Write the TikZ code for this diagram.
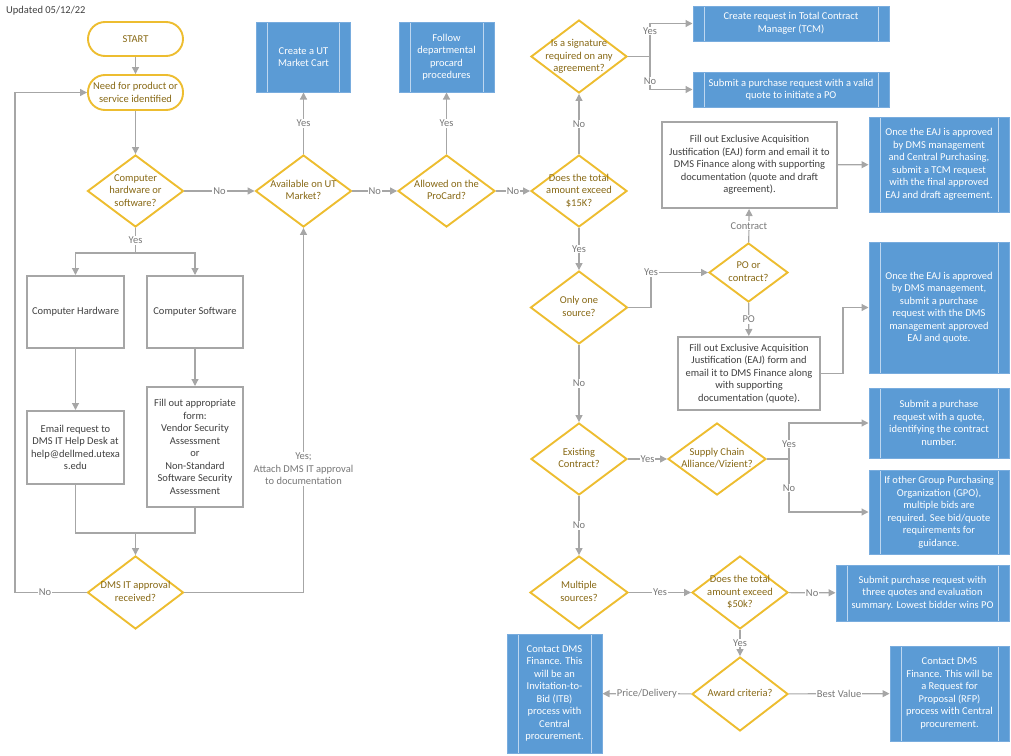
\documentclass[tikz,border=0pt]{standalone}
\usepackage{fontspec}
\setmainfont{Carlito}
\usetikzlibrary{shapes.geometric,arrows.meta}
\definecolor{gold}{RGB}{237,189,48}
\definecolor{goldtext}{RGB}{135,104,20}
\definecolor{procblue}{RGB}{91,155,213}
\definecolor{bluedge}{RGB}{120,172,222}
\definecolor{blueline}{RGB}{190,215,240}
\definecolor{linegrey}{RGB}{166,166,166}
\definecolor{boxgrey}{RGB}{166,166,166}
\definecolor{darktext}{RGB}{64,64,64}
\definecolor{labgrey}{RGB}{120,120,120}
\newcommand{\dtxt}[1]{\hbox to 0pt{\hss\vbox to 0pt{\vss\hbox{\begin{tabular}{@{}c@{}}#1\end{tabular}}\vss}\hss}}
\begin{document}
\begin{tikzpicture}[x=1pt,y=-1pt,font=\fontsize{10.5}{12.5}\selectfont,
  dec/.style={diamond, draw=gold, line width=1.9pt, inner sep=0pt, text=goldtext, minimum width=96, minimum height=72},
  term/.style={rectangle, rounded corners=17, draw=gold, line width=1.9pt, text=goldtext, align=center, minimum width=95, minimum height=34, inner sep=0pt},
  gbox/.style={rectangle, draw=boxgrey, line width=2pt, text=darktext, align=center, inner sep=0pt},
  pbox/.style={rectangle, draw=bluedge, line width=1pt, fill=procblue, text=white, align=center, inner sep=0pt,
    path picture={\draw[blueline, line width=1pt]
      ([xshift=11pt]path picture bounding box.north west) -- ([xshift=11pt]path picture bounding box.south west)
      ([xshift=-11pt]path picture bounding box.north east) -- ([xshift=-11pt]path picture bounding box.south east);}},
  conn/.style={draw=linegrey, line width=1.2pt, -{Triangle[length=7pt,width=7pt]}},
  link/.style={draw=linegrey, line width=1.2pt},
  lab/.style={fill=white, text=labgrey, inner sep=1pt}
]
\useasboundingbox (0,0) rectangle (1011,755);

\node[anchor=west, text=darktext, inner sep=0pt] (upd) at (6,11) {Updated 05/12/22};

% left column
\node[term] (start) at (135.5,39) {START};
\node[term, minimum height=35] (need) at (135.5,92.5) {Need for product or\\service identified};
\node[dec] (c1) at (135.5,191) {\dtxt{Computer\\hardware or\\software?}};
\node[gbox, minimum width=97, minimum height=72] (hw) at (75.5,312) {Computer Hardware};
\node[gbox, minimum width=96, minimum height=72] (sw) at (195,312) {Computer Software};
\node[gbox, minimum width=97, minimum height=73] (email) at (75.5,447.5) {Email request to\\DMS IT Help Desk at\\help@dellmed.utexa\\s.edu};
\node[gbox, minimum width=96, minimum height=120] (form) at (195,447) {Fill out appropriate\\form:\\Vendor Security\\Assessment\\or\\Non-Standard\\Software Security\\Assessment};
\node[dec, minimum height=73] (dms) at (135.5,592.5) {\dtxt{DMS IT approval\\received?}};

% middle
\node[dec] (avail) at (303.5,191) {\dtxt{Available on UT\\Market?}};
\node[pbox, minimum width=94, minimum height=70] (utcart) at (303.5,57) {Create a UT\\Market Cart};
\node[dec, minimum width=97] (procard) at (446.5,191) {\dtxt{Allowed on the\\ProCard?}};
\node[pbox, minimum width=95, minimum height=70] (follow) at (446.5,57) {Follow\\departmental\\procard\\procedures};

% right column of decisions
\node[dec] (d15) at (579,191) {\dtxt{Does the total\\amount exceed\\\$15K?}};
\node[dec, minimum height=73] (sig) at (579,56.5) {\dtxt{Is a signature\\required on any\\agreement?}};
\node[pbox, minimum width=196, minimum height=35] (tcm) at (791,23.5) {Create request in Total Contract\\Manager (TCM)};
\node[pbox, minimum width=196, minimum height=35] (submit) at (791,89.5) {Submit a purchase request with a valid\\quote to initiate a PO};
\node[gbox, minimum width=175, minimum height=86] (eajc) at (749.5,165) {Fill out Exclusive Acquisition\\Justification (EAJ) form and email it to\\DMS Finance along with supporting\\documentation (quote and draft\\agreement).};
\node[pbox, minimum width=140, minimum height=95] (oncec) at (939,164.5) {Once the EAJ is approved\\by DMS management\\and Central Purchasing,\\submit a TCM request\\with the final approved\\EAJ and draft agreement.};

\node[dec, minimum width=97, minimum height=73] (one) at (579,307.5) {\dtxt{Only one\\source?}};
\node[dec, minimum width=79, minimum height=59] (po) at (748.5,272.5) {\dtxt{PO or\\contract?}};
\node[gbox, minimum width=142, minimum height=73] (eajp) at (749,373.5) {Fill out Exclusive Acquisition\\Justification (EAJ) form and\\email it to DMS Finance along\\with supporting\\documentation (quote).};
\node[pbox, minimum width=140, minimum height=131] (oncep) at (939,307.5) {Once the EAJ is approved\\by DMS management,\\submit a purchase\\request with the DMS\\management approved\\EAJ and quote.};

\node[dec] (exist) at (579,459) {\dtxt{Existing\\Contract?}};
\node[dec, minimum width=98] (supply) at (717,459) {\dtxt{Supply Chain\\Alliance/Vizient?}};
\node[pbox, minimum width=140, minimum height=70] (q) at (939,423) {Submit a purchase\\request with a quote,\\identifying the contract\\number.};
\node[pbox, minimum width=140, minimum height=84] (gpo) at (939,512) {If other Group Purchasing\\Organization (GPO),\\multiple bids are\\required. See bid/quote\\requirements for\\guidance.};

\node[dec, minimum width=98, minimum height=73] (multi) at (579,592.5) {\dtxt{Multiple\\sources?}};
\node[dec, minimum height=73] (d50) at (740,592.5) {\dtxt{Does the total\\amount exceed\\\$50k?}};
\node[pbox, minimum width=173, minimum height=56] (three) at (922.5,593) {Submit purchase request with\\three quotes and evaluation\\summary. Lowest bidder wins PO};
\node[dec, minimum height=74] (award) at (740,694) {\dtxt{Award criteria?}};
\node[pbox, minimum width=95, minimum height=119] (itb) at (554.5,693.5) {Contact DMS\\Finance. This\\will be an\\Invitation-to-\\Bid (ITB)\\process with\\Central\\procurement.};
\node[pbox, minimum width=119, minimum height=95] (rfp) at (949.5,693.5) {Contact DMS\\Finance. This will be\\a Request for\\Proposal (RFP)\\process with Central\\procurement.};

% connectors
\draw[conn] (start) -- (need);
\draw[conn] (need) -- (c1);
\draw[conn] (c1) -- node[lab] (l1) {No} (avail);
\coordinate (j1) at (135.5,253);
\draw[link] (c1) -- node[lab] (l2) {Yes} (j1);
\draw[conn] (j1) -| (hw);
\draw[conn] (j1) -| (sw);
\draw[conn] (hw) -- (email);
\draw[conn] (sw) -- (form);
\coordinate (j2) at (135.5,533);
\draw[link] (email) |- (j2);
\draw[link] (form) |- (j2);
\draw[conn] (j2) -- (dms);
\coordinate (lft) at (15,592.5);
\draw[conn] (dms) -- node[lab,pos=0.58] (l3) {No} (lft) |- (need);
\coordinate (rgt) at (303.5,592.5);
\draw[conn] (dms) -- (rgt) -- (avail);
\node[lab, align=center] (l4) at (303.5,469) {Yes;\\Attach DMS IT approval\\to documentation};
\draw[conn] (avail) -- node[lab] (l5) {Yes} (utcart);
\draw[conn] (avail) -- node[lab] (l6) {No} (procard);
\draw[conn] (procard) -- node[lab] (l7) {Yes} (follow);
\draw[conn] (procard) -- node[lab] (l8) {No} (d15);
\draw[conn] (d15) -- node[lab] (l9) {No} (sig);
\coordinate (sj) at (650,56.5);
\draw[link] (sig) -- (sj);
\draw[conn] (sj) |- (tcm);
\draw[conn] (sj) |- (submit);
\node[lab] (l10) at (650,31) {Yes};
\node[lab] (l11) at (650,81) {No};
\draw[conn] (d15) -- node[lab] (l12) {Yes} (one);
\coordinate (oj) at (651,307.5);
\draw[conn] (one) -- (oj) |- (po);
\node[lab] (l13) at (651,272.5) {Yes};
\draw[conn] (po) -- node[lab] (l14) {Contract} (eajc);
\draw[conn] (po) -- node[lab] (l15) {PO} (eajp);
\draw[conn] (eajc) -- (oncec);
\coordinate (pj) at (843,373.5);
\draw[conn] (eajp) -- (pj) |- (oncep);
\draw[conn] (one) -- node[lab] (l16) {No} (exist);
\draw[conn] (exist) -- node[lab] (l17) {Yes} (supply);
\coordinate (vj) at (789,459);
\draw[link] (supply) -- (vj);
\draw[conn] (vj) |- (q);
\draw[conn] (vj) |- (gpo);
\node[lab] (l18) at (789,444) {Yes};
\node[lab] (l19) at (789,488) {No};
\draw[conn] (exist) -- node[lab] (l20) {No} (multi);
\draw[conn] (multi) -- node[lab] (l21) {Yes} (d50);
\draw[conn] (d50) -- node[lab] (l22) {No} (three);
\draw[conn] (d50) -- node[lab] (l23) {Yes} (award);
\draw[conn] (award) -- node[lab] (l24) {Price/Delivery} (itb);
\draw[conn] (award) -- node[lab] (l25) {Best Value} (rfp);
\end{tikzpicture}
\end{document}
